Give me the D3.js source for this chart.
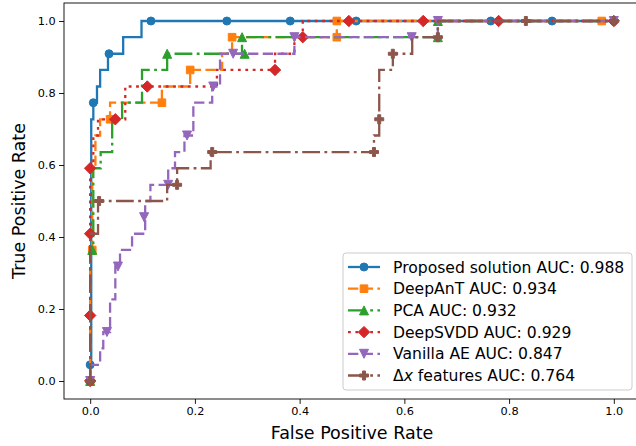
<!DOCTYPE html>
<html>
<head>
<meta charset="utf-8">
<script src="https://cdn.jsdelivr.net/npm/d3@7"></script>
<style>
    html, body { margin: 0; padding: 0; background: #fff; }
    svg { display: block; font-family: "DejaVu Sans", sans-serif; }
</style>
</head>
<body>
<div id="chart"></div>
<script>
// ===== ROC CURVES (D3) =====
// Each series is its ROC step path [fpr, tpr] plus the subset of points that
// carry a marker (matplotlib's markevery look).

const tickValues = [0, 0.2, 0.4, 0.6, 0.8, 1.0];
const tickLabels = ['0.0', '0.2', '0.4', '0.6', '0.8', '1.0'];
const seriesNames = ['Proposed solution', 'DeepAnT', 'PCA', 'DeepSVDD', 'Vanilla AE', 'Δx features'];
const aucValues = [0.988, 0.934, 0.932, 0.929, 0.847, 0.764];

const proposedRoc = [[0,0],[0,0.045],[0.002,0.045],[0.002,0.727],[0.006,0.727],[0.006,0.773],[0.013,0.773],[0.013,0.818],
    [0.019,0.818],[0.019,0.864],[0.034,0.864],[0.034,0.909],[0.063,0.909],[0.063,0.955],[0.098,0.955],[0.098,1],[1,1]];
const proposedMarks = [[0,0],[0,0.045],[0.006,0.773],[0.036,0.909],[0.116,1],[0.261,1],[0.382,1],[0.508,1],[0.765,1],[0.882,1],[1,1]];

const deepantRoc = [[0,0],[0,0.364],[0.004,0.364],[0.004,0.591],[0.01,0.591],[0.01,0.682],[0.019,0.682],[0.019,0.727],
    [0.038,0.727],[0.038,0.773],[0.137,0.773],[0.137,0.818],[0.191,0.818],[0.191,0.864],[0.252,0.864],[0.252,0.909],
    [0.271,0.909],[0.271,0.955],[0.471,0.955],[0.471,1],[1,1]];
const deepantMarks = [[0,0],[0.004,0.364],[0.038,0.727],[0.137,0.773],[0.191,0.864],[0.271,0.955],[0.471,0.955],[0.471,1],[0.977,1]];

const pcaRoc = [[0,0],[0,0.364],[0.006,0.364],[0.006,0.591],[0.02,0.591],[0.02,0.636],[0.042,0.636],[0.042,0.727],
    [0.061,0.727],[0.061,0.773],[0.099,0.773],[0.099,0.864],[0.147,0.864],[0.147,0.909],[0.29,0.909],[0.29,0.955],
    [0.664,0.955],[0.664,1],[1,1]];
const pcaMarks = [[0,0],[0.004,0.364],[0.147,0.909],[0.295,0.909],[0.29,0.955],[0.664,0.955],[0.664,1]];

const svddRoc = [[0,0],[0,0.591],[0.006,0.591],[0.006,0.682],[0.015,0.682],[0.015,0.727],[0.067,0.727],[0.067,0.818],
    [0.242,0.818],[0.242,0.864],[0.353,0.864],[0.353,0.909],[0.39,0.909],[0.39,0.955],[0.406,0.955],[0.406,1],[1,1]];
const svddMarks = [[0,0],[0,0.182],[0,0.409],[0,0.591],[0.048,0.727],[0.109,0.818],[0.353,0.864],[0.406,0.955],
    [0.494,1],[0.636,1],[0.78,1],[1,1]];

const vanillaRoc = [[0,0],[0,0.045],[0.019,0.045],[0.019,0.091],[0.025,0.091],[0.025,0.136],[0.038,0.136],[0.038,0.227],
    [0.048,0.227],[0.048,0.318],[0.057,0.318],[0.057,0.364],[0.08,0.364],[0.08,0.409],[0.105,0.409],[0.105,0.5],
    [0.115,0.5],[0.115,0.545],[0.149,0.545],[0.149,0.591],[0.162,0.591],[0.162,0.636],[0.18,0.636],[0.18,0.682],
    [0.197,0.682],[0.197,0.773],[0.233,0.773],[0.233,0.818],[0.248,0.818],[0.248,0.909],[0.39,0.909],[0.39,0.955],
    [0.664,0.955],[0.664,1],[1,1]];
const vanillaMarks = [[0,0],[0.032,0.136],[0.053,0.318],[0.103,0.455],[0.149,0.545],[0.185,0.682],[0.235,0.818],
    [0.273,0.909],[0.39,0.955],[0.614,0.955],[0.664,1],[1,1]];

const deltaRoc = [[0,0],[0,0.409],[0.015,0.409],[0.015,0.5],[0.147,0.5],[0.147,0.545],[0.166,0.545],[0.166,0.591],
    [0.23,0.591],[0.23,0.636],[0.542,0.636],[0.542,0.682],[0.552,0.682],[0.552,0.864],[0.578,0.864],[0.578,0.909],
    [0.615,0.909],[0.615,0.955],[0.664,0.955],[0.664,1],[1,1]];
const deltaMarks = [[0,0],[0.017,0.5],[0.166,0.545],[0.233,0.636],[0.542,0.636],[0.552,0.727],[0.578,0.909],
    [0.664,0.955],[0.832,1],[1,1]];

const rocs = [proposedRoc, deepantRoc, pcaRoc, svddRoc, vanillaRoc, deltaRoc];
const marks = [proposedMarks, deepantMarks, pcaMarks, svddMarks, vanillaMarks, deltaMarks];

// ---- styling (matplotlib tab10 + line styles) ----
const COLORS = ['#1f77b4', '#ff7f0e', '#2ca02c', '#d62728', '#9467bd', '#8c564b'];
const DASHES = [null, '10.3,4.4', '17.8,4.4,2.8,4.4', '2.8,4.6', '10.3,4.4', '17.8,4.4,2.8,4.4'];
const SHAPES = ['circle', 'square', 'triUp', 'diamond', 'triDown', 'plus'];

function markerPath(shape) {
    const s = 4;
    switch (shape) {
        case 'circle': return 'M' + s + ',0A' + s + ',' + s + ' 0 1,1 ' + (-s) + ',0A' + s + ',' + s + ' 0 1,1 ' + s + ',0Z';
        case 'square': return 'M-3.8,-3.8H3.8V3.8H-3.8Z';
        case 'triUp': return 'M0,-4.5L4.5,4.5L-4.5,4.5Z';
        case 'triDown': return 'M0,4.5L4.5,-4.5L-4.5,-4.5Z';
        case 'diamond': return 'M0,-5.7L5.7,0L0,5.7L-5.7,0Z';
        case 'plus': return 'M-1.5,-4.5H1.5V-1.5H4.5V1.5H1.5V4.5H-1.5V1.5H-4.5V-1.5H-1.5Z';
    }
}

// ---- layout ----
const width = 636, height = 446;
const plot = { left: 64, top: 3, right: 640, bottom: 399 };

const svg = d3.select('#chart').append('svg')
    .attr('width', width).attr('height', height)
    .attr('viewBox', [0, 0, width, height]);

const x = d3.scaleLinear().domain([-0.05, 1.05]).range([plot.left, plot.right]);
const y = d3.scaleLinear().domain([-0.05, 1.05]).range([plot.bottom, plot.top]);

// ---- axes ----
const xAxis = svg.append('g').attr('transform', 'translate(0,' + plot.bottom + ')')
    .call(d3.axisBottom(x).tickValues(tickValues).tickFormat(function (d, i) { return tickLabels[i]; })
        .tickSize(4.9).tickPadding(3.5).tickSizeOuter(0));
const yAxis = svg.append('g').attr('transform', 'translate(' + plot.left + ',0)')
    .call(d3.axisLeft(y).tickValues(tickValues).tickFormat(function (d, i) { return tickLabels[i]; })
        .tickSize(4.9).tickPadding(3.5).tickSizeOuter(0));
[xAxis, yAxis].forEach(function (g) {
    g.select('.domain').remove();
    g.selectAll('.tick line').attr('stroke', '#000').attr('stroke-width', 0.9);
    g.selectAll('.tick text').attr('fill', '#000').style('font-size', '11.3px').style('font-family', '"DejaVu Sans"');
});

// frame (spines)
svg.append('rect')
    .attr('x', plot.left).attr('y', plot.top)
    .attr('width', plot.right - plot.left).attr('height', plot.bottom - plot.top)
    .attr('fill', 'none').attr('stroke', '#000').attr('stroke-width', 0.9);

svg.append('text')
    .attr('x', (plot.left + plot.right) / 2).attr('y', 439)
    .attr('text-anchor', 'middle').style('font-size', '17.5px')
    .text('False Positive Rate');
svg.append('text')
    .attr('transform', 'translate(25,' + ((plot.top + plot.bottom) / 2) + ') rotate(-90)')
    .attr('text-anchor', 'middle').style('font-size', '17.5px')
    .text('True Positive Rate');

// ---- curves ----
const line = d3.line().x(function (d) { return x(d[0]); }).y(function (d) { return y(d[1]); });
const curves = svg.append('g');

rocs.forEach(function (roc, i) {
    const g = curves.append('g');
    g.append('path')
        .attr('d', line(roc))
        .attr('fill', 'none')
        .attr('stroke', COLORS[i])
        .attr('stroke-width', 2.3)
        .attr('stroke-dasharray', DASHES[i]);
    g.selectAll('path.mk').data(marks[i]).enter().append('path')
        .attr('class', 'mk')
        .attr('d', markerPath(SHAPES[i]))
        .attr('transform', function (d) { return 'translate(' + x(d[0]) + ',' + y(d[1]) + ')'; })
        .attr('fill', COLORS[i])
        .attr('stroke', COLORS[i])
        .attr('stroke-width', 1);
});

// ---- legend ----
const legend = svg.append('g');
legend.append('rect')
    .attr('x', 343).attr('y', 253).attr('width', 289).attr('height', 137)
    .attr('rx', 3).attr('fill', '#fff').attr('fill-opacity', 0.8)
    .attr('stroke', '#ccc').attr('stroke-width', 1);

seriesNames.forEach(function (name, i) {
    const cy = 267 + i * 21.7;
    const row = legend.append('g').attr('transform', 'translate(0,' + cy + ')');
    row.append('line')
        .attr('x1', 348).attr('x2', 380).attr('y1', 0).attr('y2', 0)
        .attr('stroke', COLORS[i]).attr('stroke-width', 2.3)
        .attr('stroke-dasharray', DASHES[i]);
    row.append('path')
        .attr('d', markerPath(SHAPES[i]))
        .attr('transform', 'translate(364,0)')
        .attr('fill', COLORS[i]).attr('stroke', COLORS[i]).attr('stroke-width', 1);
    const t = row.append('text').attr('x', 393).attr('y', 5.6).style('font-size', '15.6px');
    if (name === 'Δx features') {
        t.append('tspan').text('Δ');
        t.append('tspan').style('font-style', 'italic').text('x');
        t.append('tspan').text(' features AUC: ' + aucValues[i].toFixed(3));
    } else {
        t.text(name + ' AUC: ' + aucValues[i].toFixed(3));
    }
});
</script>
</body>
</html>
